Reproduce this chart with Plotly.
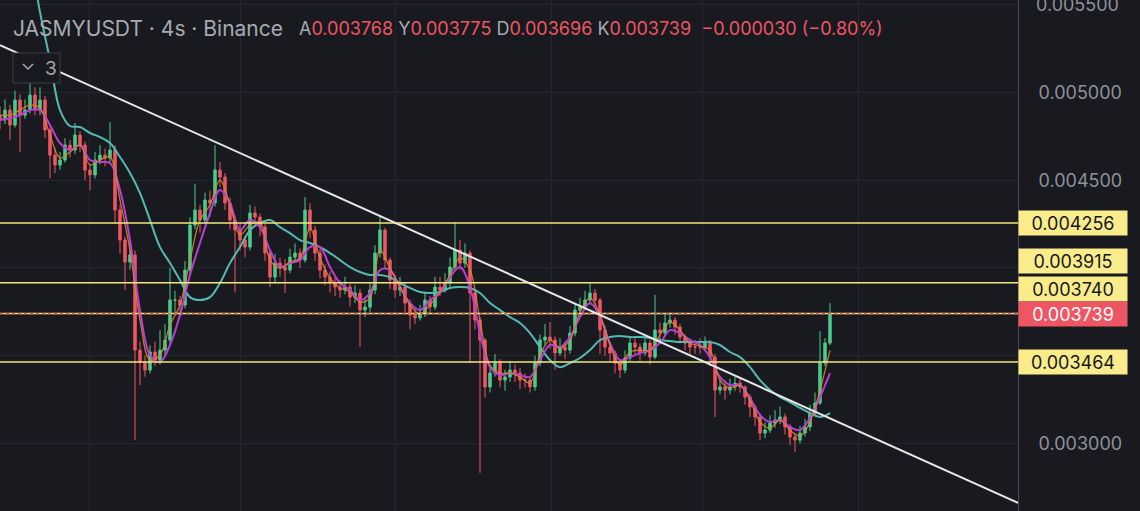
import plotly.graph_objects as go

# ---------------- data (prices in units of 1e-6 USDT) ----------------
first_open_e6 = 4870
close_e6 = [
    4843, 4900, 4814, 4957, 4871, 4900, 4985, 4900, 4957, 4786,
    4643, 4587, 4615, 4700, 4672, 4757, 4700, 4558, 4530, 4615,
    4643, 4626, 4672, 4330, 4159, 4034, 4074, 3532, 3464, 3418,
    3521, 3475, 3532, 3589, 3817, 3817, 3789, 3988, 4245, 4330,
    4273, 4387, 4370, 4558, 4518, 4370, 4273, 4216, 4159, 4119,
    4313, 4290, 4233, 4085, 3948, 4028, 4005, 3988, 4062, 4085,
    4045, 4330, 4216, 4085, 3988, 3948, 3914, 3891, 3874, 3891,
    3834, 3857, 3760, 3777, 3874, 4085, 4216, 4045, 3931, 3874,
    3891, 3800, 3732, 3715, 3743, 3817, 3777, 3891, 3874, 3914,
    4005, 4102, 4028, 4085, 3857, 3703, 3589, 3322, 3401, 3458,
    3361, 3379, 3418, 3401, 3361, 3361, 3322, 3458, 3589, 3606,
    3589, 3515, 3549, 3532, 3629, 3760, 3777, 3817, 3857, 3817,
    3646, 3549, 3515, 3458, 3418, 3487, 3572, 3549, 3515, 3572,
    3492, 3646, 3629, 3686, 3703, 3663, 3606, 3572, 3549, 3549,
    3549, 3572, 3492, 3304, 3322, 3304, 3322, 3344, 3322, 3264,
    3208, 3151, 3059, 3076, 3116, 3133, 3151, 3094, 3037, 3019,
    3059, 3094, 3173, 3230, 3458, 3572, 3739]
high_e6 = [
    4920, 4960, 4930, 5010, 4990, 4960, 5060, 5030, 5030, 4980,
    4800, 4680, 4660, 4740, 4730, 4826, 4780, 4720, 4590, 4660,
    4700, 4680, 4831, 4700, 4360, 4180, 4150, 4100, 3580, 3500,
    3560, 3580, 3646, 3680, 4000, 3870, 3840, 4040, 4290, 4480,
    4360, 4430, 4440, 4700, 4604, 4540, 4400, 4300, 4250, 4180,
    4359, 4350, 4310, 4250, 4100, 4080, 4060, 4050, 4110, 4140,
    4110, 4404, 4370, 4240, 4110, 4020, 3980, 3950, 3930, 3950,
    3910, 3900, 3880, 3830, 3920, 4130, 4302, 4230, 4060, 3960,
    3950, 3920, 3820, 3770, 3790, 3860, 3840, 3950, 3950, 3970,
    4060, 4262, 4160, 4140, 4100, 3870, 3720, 3600, 3450, 3510,
    3480, 3420, 3470, 3450, 3430, 3400, 3380, 3500, 3620, 3680,
    3692, 3610, 3600, 3580, 3670, 3800, 3830, 3870, 3920, 3880,
    3830, 3670, 3570, 3530, 3470, 3530, 3610, 3600, 3570, 3620,
    3590, 3846, 3690, 3740, 3743, 3720, 3680, 3620, 3600, 3590,
    3600, 3610, 3590, 3510, 3370, 3360, 3370, 3380, 3380, 3330,
    3280, 3220, 3170, 3120, 3160, 3190, 3210, 3170, 3110, 3060,
    3100, 3140, 3220, 3290, 3640, 3600, 3800]
low_e6 = [
    4790, 4820, 4730, 4800, 4660, 4850, 4880, 4870, 4870, 4740,
    4512, 4540, 4560, 4600, 4630, 4650, 4660, 4500, 4444, 4510,
    4590, 4580, 4600, 4250, 4080, 3874, 3990, 3019, 3333, 3380,
    3400, 3440, 3450, 3500, 3570, 3740, 3720, 3770, 3960, 4220,
    4200, 4250, 4290, 4350, 4460, 4330, 4220, 3860, 4100, 4060,
    4100, 4240, 4180, 4040, 3891, 3920, 3950, 3857, 3970, 4030,
    4000, 4030, 4170, 4040, 3940, 3900, 3860, 3840, 3830, 3850,
    3780, 3800, 3550, 3720, 3750, 3850, 4060, 4000, 3880, 3830,
    3840, 3750, 3650, 3680, 3700, 3720, 3740, 3760, 3840, 3860,
    3890, 3990, 3990, 4000, 3460, 3650, 2832, 3260, 3290, 3380,
    3320, 3300, 3350, 3350, 3310, 3320, 3290, 3300, 3440, 3560,
    3540, 3420, 3500, 3480, 3510, 3610, 3720, 3760, 3790, 3770,
    3510, 3500, 3470, 3400, 3373, 3400, 3470, 3510, 3470, 3500,
    3450, 3480, 3590, 3610, 3660, 3620, 3570, 3530, 3510, 3510,
    3510, 3530, 3440, 3150, 3280, 3250, 3280, 3300, 3290, 3220,
    3150, 3100, 3019, 3030, 3060, 3090, 3110, 3050, 2990, 2951,
    3000, 3040, 3070, 3160, 3220, 3440, 3560]

# moving averages, sampled every second candle
ma_fast_e6 = [
    4871, 4871, 4900, 4928, 4911, 4757, 4626, 4661, 4700, 4587,
    4615, 4632, 4387, 4102, 3703, 3475, 3504, 3675, 3789, 4045,
    4273, 4359, 4501, 4359, 4188, 4245, 4262, 4045, 3999, 4034,
    4057, 4228, 4057, 3943, 3886, 3863, 3806, 3829, 4102, 3999,
    3891, 3789, 3737, 3789, 3863, 3960, 4057, 3988, 3703, 3447,
    3401, 3401, 3379, 3344, 3504, 3589, 3544, 3589, 3749, 3829,
    3732, 3561, 3447, 3521, 3532, 3532, 3618, 3692, 3646, 3572,
    3555, 3532, 3361, 3316, 3333, 3247, 3122, 3088, 3133, 3076,
    3042, 3122, 3304, 3532]
ma_mid_e6 = [
    4843, 4854, 4871, 4900, 4900, 4814, 4712, 4672, 4700, 4615,
    4604, 4598, 4444, 4159, 3760, 3504, 3464, 3561, 3732, 3960,
    4142, 4313, 4444, 4370, 4216, 4273, 4233, 4102, 4005, 4028,
    4045, 4119, 4119, 4005, 3914, 3874, 3817, 3857, 3988, 3988,
    3891, 3800, 3760, 3817, 3857, 3948, 4005, 3891, 3629, 3435,
    3390, 3401, 3390, 3379, 3475, 3561, 3549, 3606, 3720, 3800,
    3720, 3572, 3475, 3492, 3515, 3532, 3572, 3646, 3629, 3589,
    3561, 3492, 3379, 3333, 3333, 3259, 3162, 3122, 3133, 3094,
    3076, 3145, 3264, 3401]
ma_slow_e6 = [
    5783, 5458, 5185, 4900, 4809, 4803, 4769, 4746, 4712, 4632,
    4541, 4427, 4273, 4119, 4028, 3931, 3834, 3817, 3834, 3914,
    4028, 4119, 4216, 4256, 4273, 4233, 4199, 4159, 4142, 4119,
    4085, 4045, 4005, 3977, 3960, 3960, 3948, 3914, 3886, 3863,
    3857, 3863, 3886, 3891, 3886, 3857, 3800, 3760, 3720, 3686,
    3629, 3549, 3475, 3435, 3458, 3487, 3532, 3589, 3606, 3612,
    3606, 3606, 3601, 3589, 3584, 3578, 3578, 3578, 3578, 3561,
    3521, 3492, 3435, 3361, 3304, 3264, 3236, 3202, 3173, 3151,
    3173]

levels = [0.004256, 0.003915, 0.003740, 0.003464]
level_labels = ["0.004256", "0.003915", "0.003740", "0.003464"]
last_price = 0.003739
axis_ticks = [0.0030, 0.0035, 0.0040, 0.0045, 0.0050, 0.0055]
axis_tick_text = ["0.003000", "", "", "0.004500", "0.005000", "0.005500"]
trend_x = [0, 203.6]
trend_y = [0.005270, 0.002661]
legend_vals = [("A", "0.003768"), ("Y", "0.003775"), ("D", "0.003696"), ("K", "0.003739")]
legend_change = "\u22120.000030 (\u22120.80%)"

# ---------------- derived ----------------
S = 1e-6
close = [c * S for c in close_e6]
high = [h * S for h in high_e6]
low = [l * S for l in low_e6]
opens = [first_open_e6 * S] + close[:-1]
idx = list(range(len(close)))
ma_idx = list(range(0, 167, 2))
slow_idx = list(range(6, 167, 2))

BG = "#181a1f"
GRID = "#23262c"
GREEN = "#4ccb8c"
RED = "#ef5663"
YEL = "#f6e67e"
LABEL = "#faec8a"
GRAY = "#a7aab2"
TICK = "#8e919a"
FONT = "Inter, Roboto, sans-serif"

W, H, PW = 1140, 511, 1018


def px(x):
    return x / PW


def py(y):
    return 1 - y / H


fig = go.Figure()
fig.add_trace(go.Candlestick(
    x=idx, open=opens, high=high, low=low, close=close,
    increasing=dict(line=dict(color=GREEN, width=1), fillcolor=GREEN),
    decreasing=dict(line=dict(color=RED, width=1), fillcolor=RED),
    whiskerwidth=0, showlegend=False, hoverinfo="skip"))
fig.add_trace(go.Scatter(x=slow_idx, y=[v * S for v in ma_slow_e6], mode="lines",
                         line=dict(color="#55b9b3", width=2, shape="spline"),
                         showlegend=False, hoverinfo="skip"))
fig.add_trace(go.Scatter(x=ma_idx, y=[v * S for v in ma_mid_e6], mode="lines",
                         line=dict(color="#b83fd4", width=2, shape="spline"),
                         showlegend=False, hoverinfo="skip"))
fig.add_trace(go.Scatter(x=ma_idx, y=[v * S for v in ma_fast_e6], mode="lines",
                         line=dict(color="#d9892c", width=1.3, shape="spline"),
                         opacity=0.85, showlegend=False, hoverinfo="skip"))

shapes = []
for lv in levels:
    shapes.append(dict(type="line", xref="paper", yref="y", x0=0, x1=1, y0=lv, y1=lv,
                       line=dict(color=YEL, width=1.5)))
shapes.append(dict(type="line", xref="paper", yref="y", x0=0, x1=1, y0=last_price, y1=last_price,
                   line=dict(color=RED, width=1.5, dash="dot")))
shapes.append(dict(type="line", xref="x", yref="y", x0=trend_x[0], x1=trend_x[1],
                   y0=trend_y[0], y1=trend_y[1], line=dict(color="#e6e6e6", width=2)))
# collapse button
shapes.append(dict(type="rect", xref="paper", yref="paper", x0=px(13), x1=px(60), y0=py(83), y1=py(53),
                   line=dict(color="#3a3d45", width=1), fillcolor=BG))
shapes.append(dict(type="path", xref="paper", yref="paper",
                   path=f"M {px(23)} {py(64)} L {px(28)} {py(69)} L {px(33)} {py(64)}",
                   line=dict(color=GRAY, width=1.5)))

annotations = []
annotations.append(dict(xref="paper", yref="paper", x=px(43), y=py(68), text="3", showarrow=False,
                        xanchor="left", yanchor="middle", font=dict(size=19, color=GRAY, family=FONT)))
annotations.append(dict(xref="paper", yref="paper", x=px(11), y=py(28),
                        text="JASMYUSDT \u00b7 4s \u00b7 Binance", showarrow=False,
                        xanchor="left", yanchor="middle", font=dict(size=21, color=GRAY, family=FONT)))
legend_txt = " ".join(f"<span style='color:{GRAY}'>{k}</span>{v}" for k, v in legend_vals) + "  " + legend_change
annotations.append(dict(xref="paper", yref="paper", x=px(297), y=py(29), text=legend_txt, showarrow=False,
                        xanchor="left", yanchor="middle", font=dict(size=18, color=RED, family=FONT)))
# top axis label that sits at the very edge
annotations.append(dict(xref="paper", yref="y", x=1.0, y=0.0055, xshift=16, text="0.005500", showarrow=False,
                        xanchor="left", yanchor="middle", font=dict(size=18, color=TICK, family=FONT)))

label_shift = [0, 22, 25, 0]
for lv, txt, sh in zip(levels, level_labels, label_shift):
    annotations.append(dict(xref="paper", yref="y", x=1.0, y=lv, yshift=sh, text=txt, showarrow=False,
                            xanchor="left", yanchor="middle", width=106, height=22, bgcolor=LABEL,
                            font=dict(size=18, color="#15171c", family=FONT), align="center"))
annotations.append(dict(xref="paper", yref="y", x=1.0, y=last_price, text=f"{last_price:.6f}",
                        showarrow=False, xanchor="left", yanchor="middle", width=106, height=22,
                        bgcolor=RED, font=dict(size=18, color="#ffffff", family=FONT), align="center"))

fig.update_layout(
    width=W, height=H, margin=dict(l=0, r=W - PW, t=0, b=0),
    paper_bgcolor=BG, plot_bgcolor=BG, showlegend=False,
    xaxis=dict(range=[0, 203.6], rangeslider=dict(visible=False), showticklabels=False,
               tickvals=[17.8, 48, 79, 110.2, 140.4, 171.6], showgrid=True, gridcolor=GRID,
               zeroline=False, showline=False, ticks=""),
    yaxis=dict(side="right", range=[0.002615, 0.005527], tickvals=axis_ticks, ticktext=axis_tick_text,
               showgrid=True, gridcolor=GRID, zeroline=False, showline=True, linecolor="#4a4d55",
               linewidth=1, ticks="", ticklabelstandoff=16,
               tickfont=dict(size=18, color=TICK, family=FONT)),
    shapes=shapes, annotations=annotations,
)

fig.write_html("out.html")
